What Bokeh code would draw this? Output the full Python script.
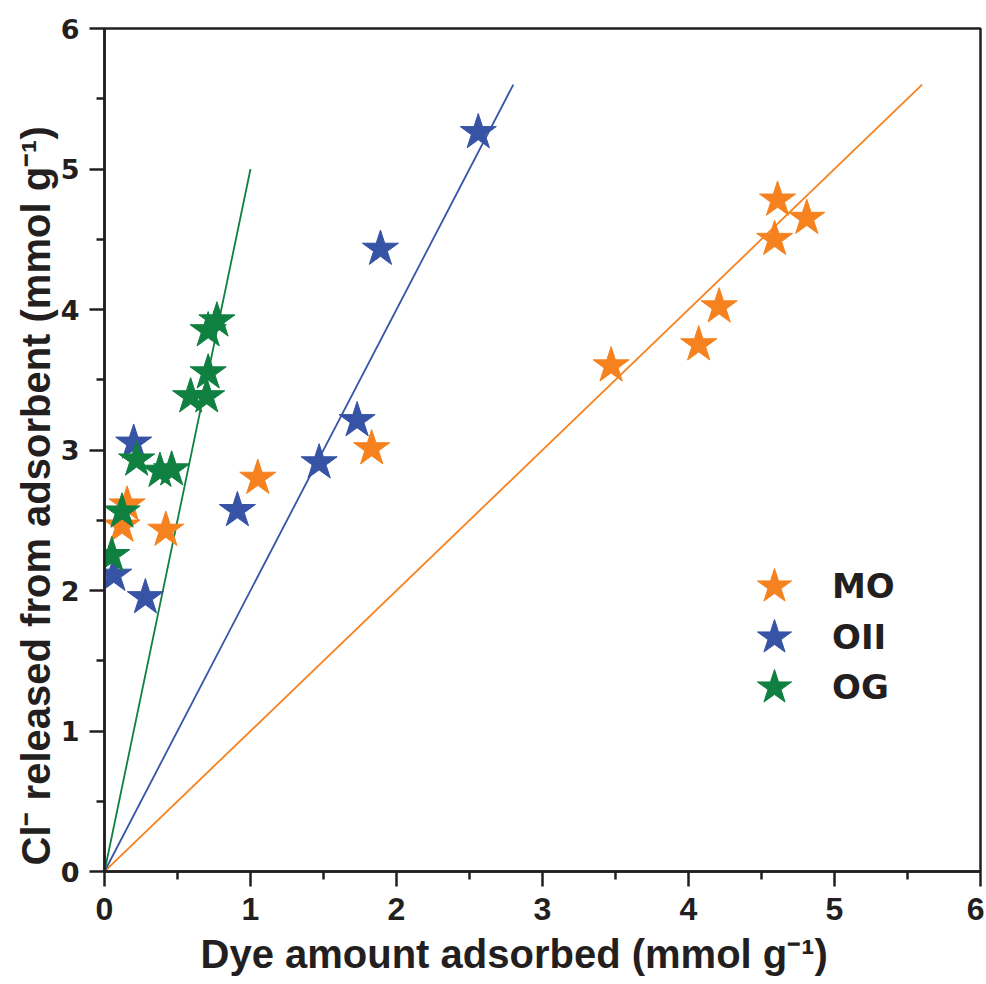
from bokeh.plotting import figure
from bokeh.models import Range1d, FixedTicker, Legend, LegendItem, Title
from bokeh.embed import file_html
from bokeh.resources import INLINE

# ---- data ----
mo_x = [4.61, 4.81, 4.59, 4.21, 4.07, 3.47, 1.83, 1.05, 0.42, 0.155, 0.12]
mo_y = [4.78, 4.65, 4.50, 4.02, 3.75, 3.60, 3.01, 2.80, 2.43, 2.61, 2.46]

oii_x = [2.56, 1.89, 1.73, 1.47, 0.91, 0.20, 0.064, 0.28]
oii_y = [5.26, 4.43, 3.21, 2.91, 2.57, 3.05, 2.11, 1.95]

og_x = [0.77, 0.71, 0.71, 0.59, 0.70, 0.22, 0.38, 0.46, 0.12, 0.05]
og_y = [3.92, 3.85, 3.55, 3.38, 3.38, 2.93, 2.85, 2.86, 2.56, 2.25]

# fitted lines through the origin
mo_line_x = [0, 5.6]
mo_line_y = [0, 5.6]
oii_line_x = [0, 2.8]
oii_line_y = [0, 5.6]
og_line_x = [0, 1.0]
og_line_y = [0, 5.0]

series_names = ["MO", "OII", "OG"]
ticks = [0, 1, 2, 3, 4, 5, 6]
minor = [0.5, 1.5, 2.5, 3.5, 4.5, 5.5]
x_title = "Dye amount adsorbed (mmol g\u207b\u00b9)"
y_title = "Cl\u207b released from adsorbent (mmol g\u207b\u00b9)"

ORANGE = "#F5821F"
BLUE = "#3753A5"
GREEN = "#0F8040"
INK = "#231F20"

p = figure(width=984, height=984, output_backend="svg", toolbar_location=None,
           x_range=Range1d(0, 6), y_range=Range1d(0, 6),
           min_border_left=104, min_border_right=4, min_border_top=28,
           min_border_bottom=113)
p.grid.visible = False
p.outline_line_color = INK
p.outline_line_width = 2.5
p.background_fill_color = "white"
p.border_fill_color = "white"

p.line(mo_line_x, mo_line_y, line_color=ORANGE, line_width=1.8)
p.line(oii_line_x, oii_line_y, line_color=BLUE, line_width=1.8)
p.line(og_line_x, og_line_y, line_color=GREEN, line_width=1.8)

r_mo = p.scatter(mo_x, mo_y, marker="star", size=38, fill_color=ORANGE, line_color=ORANGE)
r_oii = p.scatter(oii_x, oii_y, marker="star", size=38, fill_color=BLUE, line_color=BLUE)
r_og = p.scatter(og_x, og_y, marker="star", size=38, fill_color=GREEN, line_color=GREEN)

for ax in (p.xaxis[0], p.yaxis[0]):
    ax.ticker = FixedTicker(ticks=ticks, minor_ticks=minor)
    ax.axis_line_width = 2.5
    ax.axis_line_color = INK
    ax.major_tick_line_width = 2.5
    ax.minor_tick_line_width = 2.5
    ax.major_tick_line_color = INK
    ax.minor_tick_line_color = INK
    ax.major_tick_in = 0
    ax.major_tick_out = 15
    ax.minor_tick_in = 0
    ax.minor_tick_out = 8
    ax.major_label_text_color = INK
    ax.major_label_text_font_style = "bold"

p.xaxis.major_label_text_font = "Liberation Sans"
p.xaxis.major_label_text_font_size = "32px"
p.xaxis.major_label_standoff = 11

p.yaxis.major_label_text_font = "DejaVu Sans"
p.yaxis.major_label_text_font_size = "27px"
p.yaxis.major_label_standoff = 10

xt = Title(text=x_title, align="left", offset=96, standoff=15,
           text_font="Liberation Sans", text_font_style="bold",
           text_font_size="40px", text_color=INK)
p.add_layout(xt, "below")

yt = Title(text=y_title, align="left", offset=6, standoff=0,
           text_font="Liberation Sans", text_font_style="bold",
           text_font_size="40px", text_color=INK)
p.add_layout(yt, "left")

# one legend box per series so the key entries can sit closer than the glyph box
legend_offsets = [(625, 240), (625, 189), (625, 139)]
for name, rend, loc in zip(series_names, [r_mo, r_oii, r_og], legend_offsets):
    lg = Legend(items=[LegendItem(label=name, renderers=[rend])],
                location=loc, glyph_width=90, glyph_height=90,
                padding=0, margin=0, label_standoff=13,
                border_line_color=None, background_fill_alpha=0,
                label_text_font="DejaVu Sans", label_text_font_style="bold",
                label_text_font_size="34px", label_text_color=INK)
    p.add_layout(lg)

open("out.html", "w").write(file_html(p, INLINE))
